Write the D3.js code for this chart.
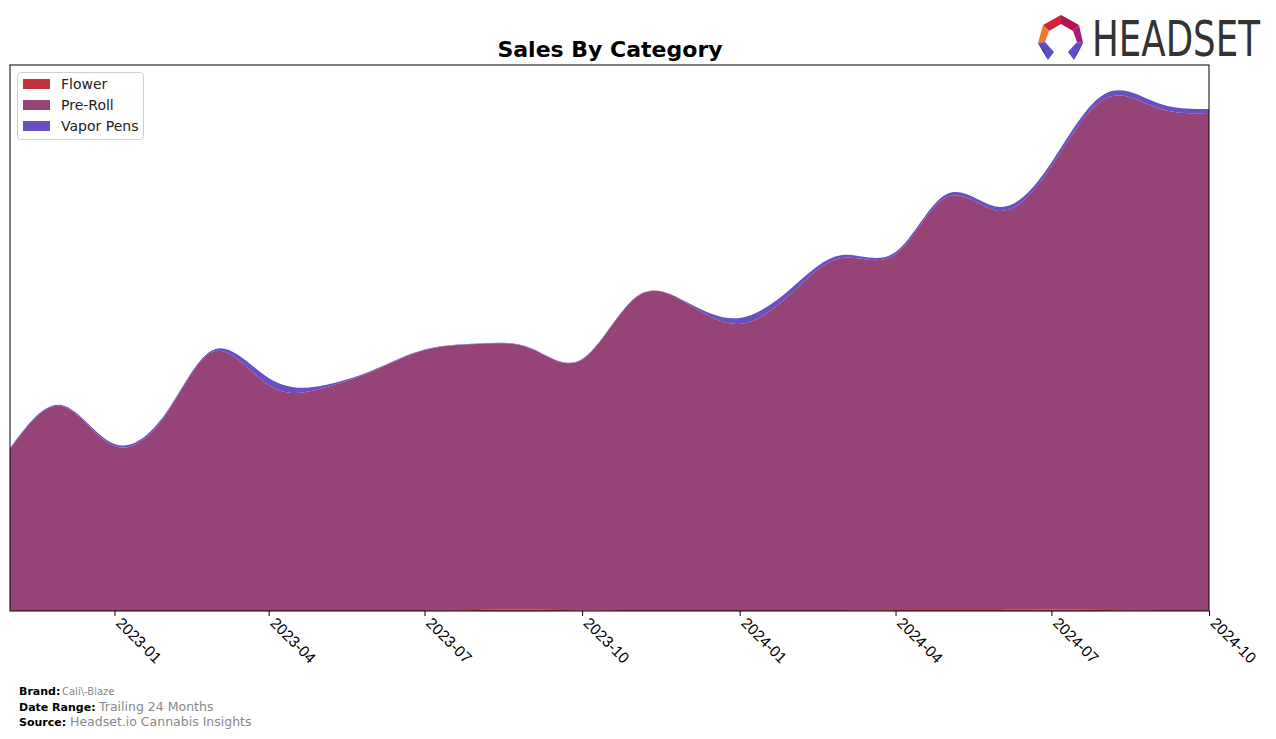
<!DOCTYPE html>
<html>
<head>
<meta charset="utf-8">
<script src="https://cdn.jsdelivr.net/npm/d3@7"></script>
<style>
  html, body { margin: 0; padding: 0; background: #fff; }
  svg { display: block; font-family: "DejaVu Sans", sans-serif; }
</style>
</head>
<body>
<svg id="chart" width="1276" height="739"></svg>
<script>
// ---- data ----
const months = ["2022-11","2022-12","2023-01","2023-02","2023-03","2023-04","2023-05","2023-06",
  "2023-07","2023-08","2023-09","2023-10","2023-11","2023-12","2024-01","2024-02","2024-03",
  "2024-04","2024-05","2024-06","2024-07","2024-08","2024-09","2024-10"];
const categories = ["Flower", "Pre-Roll", "Vapor Pens"];
const flower = [0,0,0,0,0,0,0,0,0,100,150,50,0,0,0,0,0,100,100,100,150,100,0,0];
const preRoll = [16200,20500,16500,19900,26000,22600,22200,24000,26100,26600,26100,25100,
  31300,30800,28700,31900,35300,35600,41300,39900,44300,51100,50300,49800];
const vaporPens = [100,100,200,150,200,700,300,100,50,50,50,50,50,100,600,500,300,200,300,400,400,500,500,400];
const xTickLabels = ["2023-01","2023-04","2023-07","2023-10","2024-01","2024-04","2024-07","2024-10"];
const colors = ["#C0343B", "#964378", "#6A4FC0"];

// ---- layout ----
const svg = d3.select("#chart");
const L = 10, R = 1209, T = 65, B = 611;
const parse = d3.timeParse("%Y-%m");
const rows = months.map((m, i) => ({
  date: parse(m), "Flower": flower[i], "Pre-Roll": preRoll[i], "Vapor Pens": vaporPens[i]
}));
const x = d3.scaleTime().domain([parse(months[0]), parse(months[months.length - 1])]).range([L, R]);
const stacked = d3.stack().keys(categories)(rows);
const maxTotal = d3.max(rows, d => d["Flower"] + d["Pre-Roll"] + d["Vapor Pens"]);
const y = d3.scaleLinear().domain([0, maxTotal * 1.056]).range([B, T]);

const clip = svg.append("defs").append("clipPath").attr("id", "clip");
clip.append("rect").attr("x", L).attr("y", T).attr("width", R - L).attr("height", B - T);

const area = d3.area()
  .x(d => x(d.data.date))
  .y0(d => y(d[0]))
  .y1(d => y(d[1]))
  .curve(d3.curveNatural);

svg.append("g").attr("clip-path", "url(#clip)")
  .selectAll("path").data(stacked).join("path")
  .attr("d", area)
  .attr("fill", (d, i) => colors[i]);

// frame
svg.append("rect").attr("x", L).attr("y", T).attr("width", R - L).attr("height", B - T)
  .attr("fill", "none").attr("stroke", "#000").attr("stroke-width", 1);

// x axis
const ticks = xTickLabels.map(parse);
const xAxis = svg.append("g").attr("transform", `translate(0,${B})`)
  .call(d3.axisBottom(x).tickValues(ticks).tickFormat(d3.timeFormat("%Y-%m")).tickSizeOuter(0).tickSize(5));
xAxis.select(".domain").remove();
xAxis.selectAll(".tick line").attr("stroke", "#000");
xAxis.selectAll(".tick text")
  .attr("font-size", 15.5).attr("fill", "#000")
  .attr("text-anchor", "start")
  .attr("dy", null).attr("y", 0)
  .attr("transform", "translate(0,13) rotate(45)");

// title
svg.append("text").attr("x", 610).attr("y", 57).attr("text-anchor", "middle")
  .attr("font-size", 22).attr("font-weight", "bold").text("Sales By Category");

// legend
const lg = svg.append("g");
lg.append("rect").attr("x", 17.5).attr("y", 72.5).attr("width", 126).attr("height", 67)
  .attr("rx", 3).attr("fill", "#fff").attr("stroke", "#cfcfcf");
categories.forEach((c, i) => {
  lg.append("rect").attr("x", 23).attr("y", 79 + i * 21).attr("width", 27).attr("height", 10).attr("fill", colors[i]);
  lg.append("text").attr("x", 61).attr("y", 89 + i * 21).attr("font-size", 14).attr("fill", "#222").text(c);
});

// footer
const foot = [
  ["Brand:", "Cali\\-Blaze", 695, 62, 10],
  ["Date Range:", "Trailing 24 Months", 711, 99, 12.5],
  ["Source:", "Headset.io Cannabis Insights", 726, 70, 12.5]
];
foot.forEach(([k, v, yy, vx, vfs]) => {
  svg.append("text").attr("x", 19).attr("y", yy).attr("font-size", 11).attr("font-weight", "bold").text(k);
  svg.append("text").attr("x", vx).attr("y", yy).attr("font-size", vfs).attr("fill", "#888").text(v);
});

// logo
const logo = svg.append("g");
const segs = [
  {p: [[1043,25],[1061,15],[1061,24],[1049,31]], c: "#D4213A"},
  {p: [[1061,15],[1079,25],[1073,31],[1061,24]], c: "#B0154C"},
  {p: [[1079,25],[1083,43],[1077,42],[1073,31]], c: "#A31C7A"},
  {p: [[1043,25],[1049,31],[1045,42],[1038,43]], c: "#F07A22"},
  {p: [[1038,43],[1045,42],[1054,52],[1048,60]], c: "#5A4FC8"},
  {p: [[1038,43],[1048,60],[1044,51]], c: "#2E2A7E"},
  {p: [[1083,43],[1077,42],[1068,52],[1074,60]], c: "#5A4FC8"},
  {p: [[1083,43],[1074,60],[1078,51]], c: "#2E2A7E"}
];
segs.forEach(s => logo.append("polygon").attr("points", s.p.map(p => p.join(",")).join(" ")).attr("fill", s.c));
const lt = logo.append("text").attr("x", 0).attr("y", 0).attr("font-size", 49)
  .attr("font-family", "'DejaVu Sans Condensed', 'DejaVu Sans', sans-serif")
  .attr("fill", "#333").text("HEADSET");
const natW = lt.node().getComputedTextLength();
lt.attr("transform", `translate(1092,56) scale(${168 / natW},1)`);
</script>
</body>
</html>
